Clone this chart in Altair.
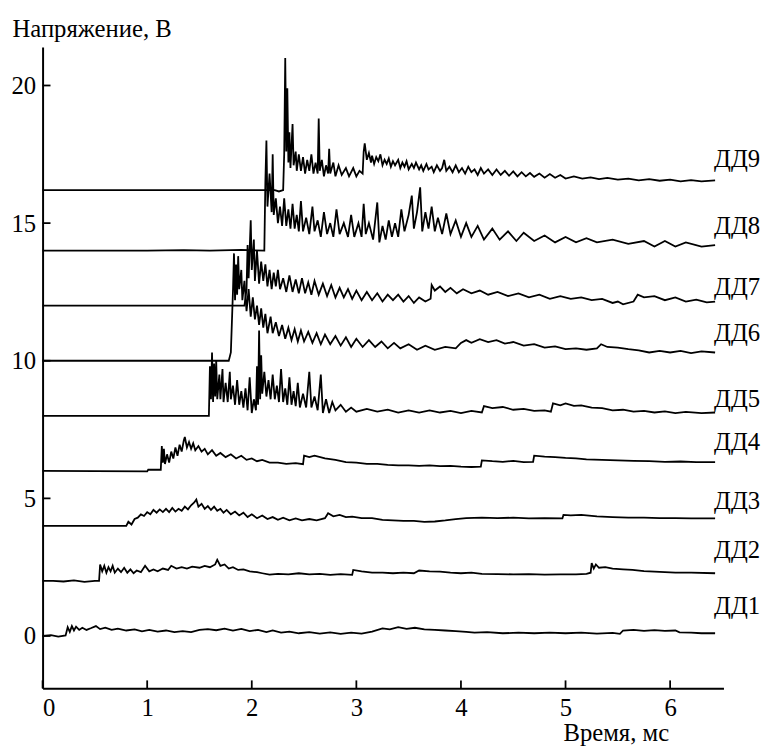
import altair as alt
import pandas as pd

# ---------------- data (time, ms ; voltage, V) ----------------
DD1 = [(0,0.0),(0.08,0.03),(0.15,-0.02),(0.22,0.02),(0.24,0.32),(0.26,0.15),(0.28,0.36),(0.3,0.2),(0.32,0.34),(0.35,0.22),(0.38,0.3),(0.42,0.22),(0.46,0.28),(0.51,0.36),(0.55,0.25),(0.6,0.3),(0.66,0.22),(0.72,0.27),(0.8,0.2),(0.88,0.24),(0.95,0.17),(1.02,0.22),(1.1,0.16),(1.18,0.2),(1.26,0.14),(1.34,0.18),(1.42,0.14),(1.5,0.22),(1.58,0.25),(1.66,0.21),(1.74,0.27),(1.82,0.2),(1.9,0.26),(1.98,0.18),(2.06,0.22),(2.14,0.14),(2.2,0.2),(2.28,0.12),(2.36,0.16),(2.45,0.1),(2.55,0.14),(2.65,0.09),(2.75,0.13),(2.85,0.08),(2.95,0.12),(3.05,0.09),(3.15,0.16),(3.25,0.28),(3.32,0.24),(3.4,0.32),(3.48,0.26),(3.56,0.3),(3.65,0.24),(3.75,0.22),(3.85,0.2),(3.95,0.18),(4.05,0.15),(4.13,0.12),(4.25,0.14),(4.4,0.1),(4.55,0.12),(4.7,0.1),(4.85,0.12),(5.0,0.1),(5.15,0.12),(5.3,0.09),(5.45,0.11),(5.52,0.08),(5.55,0.2),(5.65,0.22),(5.75,0.19),(5.85,0.21),(5.95,0.19),(6.05,0.2),(6.09,0.13),(6.2,0.12),(6.3,0.1),(6.43,0.1)]

DD2 = [(0,2.0),(0.1,2.0),(0.2,1.98),(0.3,2.02),(0.4,1.97),(0.5,2.0),(0.54,2.0),(0.55,2.6),(0.57,2.35),(0.59,2.55),(0.61,2.3),(0.63,2.5),(0.65,2.35),(0.67,2.55),(0.69,2.3),(0.72,2.45),(0.75,2.32),(0.78,2.48),(0.81,2.3),(0.84,2.42),(0.87,2.28),(0.9,2.38),(0.94,2.32),(0.98,2.55),(1.02,2.35),(1.06,2.42),(1.1,2.35),(1.15,2.45),(1.2,2.4),(1.23,2.55),(1.28,2.45),(1.33,2.5),(1.38,2.45),(1.43,2.52),(1.5,2.48),(1.55,2.55),(1.6,2.5),(1.65,2.6),(1.67,2.77),(1.7,2.55),(1.74,2.6),(1.78,2.45),(1.82,2.5),(1.87,2.4),(1.92,2.42),(1.98,2.35),(2.05,2.32),(2.1,2.28),(2.17,2.23),(2.25,2.26),(2.35,2.24),(2.45,2.28),(2.55,2.24),(2.65,2.26),(2.75,2.22),(2.85,2.25),(2.96,2.22),(2.97,2.4),(3.05,2.35),(3.15,2.3),(3.25,2.3),(3.35,2.28),(3.45,2.3),(3.55,2.28),(3.6,2.38),(3.7,2.35),(3.8,2.34),(3.9,2.3),(4.0,2.28),(4.1,2.3),(4.2,2.26),(4.35,2.25),(4.5,2.24),(4.65,2.25),(4.8,2.23),(4.95,2.24),(5.1,2.24),(5.2,2.26),(5.24,2.3),(5.25,2.65),(5.27,2.45),(5.29,2.6),(5.32,2.48),(5.38,2.5),(5.45,2.45),(5.55,2.42),(5.64,2.4),(5.75,2.36),(5.9,2.33),(6.05,2.3),(6.2,2.3),(6.43,2.28)]

DD3 = [(0,4.0),(0.8,4.0),(0.82,4.15),(0.85,4.05),(0.88,4.25),(0.91,4.3),(0.94,4.42),(0.97,4.36),(1.0,4.5),(1.03,4.42),(1.06,4.58),(1.09,4.48),(1.12,4.6),(1.15,4.5),(1.18,4.62),(1.21,4.5),(1.24,4.65),(1.27,4.52),(1.3,4.62),(1.33,4.55),(1.36,4.7),(1.39,4.6),(1.42,4.75),(1.45,4.85),(1.47,4.96),(1.49,4.7),(1.52,4.8),(1.55,4.62),(1.58,4.72),(1.61,4.58),(1.64,4.7),(1.67,4.55),(1.7,4.62),(1.73,4.48),(1.76,4.58),(1.8,4.42),(1.84,4.52),(1.88,4.38),(1.92,4.48),(1.96,4.32),(2.0,4.42),(2.05,4.28),(2.1,4.38),(2.15,4.25),(2.2,4.32),(2.25,4.22),(2.3,4.3),(2.36,4.2),(2.42,4.27),(2.48,4.2),(2.55,4.25),(2.62,4.2),(2.7,4.28),(2.73,4.46),(2.78,4.35),(2.84,4.4),(2.9,4.32),(2.96,4.34),(3.05,4.28),(3.15,4.28),(3.25,4.22),(3.35,4.2),(3.45,4.18),(3.55,4.18),(3.65,4.15),(3.75,4.16),(3.85,4.2),(3.95,4.25),(4.05,4.28),(4.2,4.3),(4.35,4.28),(4.5,4.3),(4.65,4.27),(4.8,4.28),(4.97,4.27),(4.98,4.4),(5.05,4.38),(5.15,4.4),(5.3,4.35),(5.45,4.32),(5.6,4.3),(5.75,4.3),(5.9,4.28),(6.05,4.28),(6.2,4.27),(6.43,4.27)]

DD4 = [(0,6.0),(1.0,5.98),(1.01,6.04),(1.13,6.04),(1.14,6.9),(1.15,6.3),(1.16,6.8),(1.17,6.25),(1.19,6.6),(1.21,6.3),(1.23,6.7),(1.25,6.45),(1.27,6.85),(1.29,6.55),(1.31,6.95),(1.33,6.7),(1.35,7.1),(1.36,7.23),(1.38,6.85),(1.4,7.05),(1.42,6.8),(1.44,7.0),(1.46,6.75),(1.49,6.9),(1.52,6.7),(1.55,6.8),(1.58,6.6),(1.62,6.75),(1.66,6.55),(1.7,6.65),(1.75,6.5),(1.8,6.6),(1.85,6.45),(1.9,6.55),(1.95,6.4),(2.0,6.45),(2.05,6.35),(2.1,6.4),(2.17,6.3),(2.25,6.3),(2.33,6.25),(2.42,6.28),(2.49,6.24),(2.5,6.55),(2.55,6.5),(2.6,6.55),(2.7,6.45),(2.8,6.4),(2.9,6.32),(3.0,6.3),(3.1,6.25),(3.2,6.25),(3.3,6.22),(3.4,6.2),(3.5,6.2),(3.6,6.18),(3.7,6.2),(3.8,6.17),(3.9,6.18),(4.0,6.15),(4.1,6.14),(4.19,6.15),(4.2,6.38),(4.3,6.35),(4.4,6.33),(4.5,6.36),(4.6,6.32),(4.69,6.33),(4.7,6.55),(4.8,6.52),(4.9,6.5),(5.0,6.47),(5.1,6.45),(5.2,6.42),(5.35,6.4),(5.5,6.38),(5.65,6.36),(5.8,6.35),(5.95,6.33),(6.1,6.34),(6.25,6.32),(6.43,6.32)]

DD5 = [(0,8.0),(1.59,8.0),(1.6,9.8),(1.61,8.6),(1.62,10.3),(1.63,8.5),(1.64,9.9),(1.65,8.7),(1.66,10.0),(1.67,8.6),(1.69,9.5),(1.7,8.6),(1.72,9.7),(1.73,8.5),(1.75,9.2),(1.77,8.5),(1.79,9.6),(1.8,8.6),(1.82,9.1),(1.84,8.4),(1.86,9.3),(1.88,8.4),(1.9,8.9),(1.92,8.3),(1.94,9.0),(1.96,8.2),(1.98,9.4),(2.0,8.1),(2.02,8.6),(2.04,8.2),(2.05,9.8),(2.06,8.4),(2.07,11.1),(2.08,8.6),(2.09,10.2),(2.1,8.8),(2.12,9.6),(2.14,8.7),(2.16,9.3),(2.18,8.6),(2.2,9.5),(2.22,8.6),(2.24,9.1),(2.26,8.5),(2.28,9.7),(2.3,8.5),(2.32,9.0),(2.34,8.4),(2.36,9.4),(2.38,8.4),(2.4,8.9),(2.42,8.35),(2.44,9.2),(2.46,8.3),(2.49,8.8),(2.52,8.3),(2.55,9.6),(2.57,8.3),(2.6,8.7),(2.63,8.2),(2.66,9.5),(2.68,8.1),(2.71,8.6),(2.74,8.1),(2.77,8.5),(2.8,8.2),(2.85,8.4),(2.9,8.15),(2.95,8.3),(3.0,8.15),(3.1,8.25),(3.2,8.15),(3.3,8.22),(3.4,8.12),(3.5,8.2),(3.6,8.12),(3.7,8.2),(3.8,8.12),(3.9,8.18),(4.0,8.1),(4.1,8.18),(4.2,8.12),(4.22,8.35),(4.3,8.28),(4.4,8.32),(4.5,8.22),(4.6,8.25),(4.7,8.18),(4.8,8.2),(4.86,8.15),(4.88,8.45),(4.95,8.38),(5.0,8.45),(5.08,8.36),(5.15,8.38),(5.25,8.3),(5.35,8.28),(5.45,8.2),(5.55,8.22),(5.65,8.15),(5.75,8.18),(5.85,8.12),(5.95,8.16),(6.05,8.1),(6.15,8.14),(6.3,8.1),(6.43,8.12)]

DD6 = [(0,10.0),(1.78,10.0),(1.8,10.3),(1.82,12.5),(1.83,13.9),(1.84,12.2),(1.85,13.5),(1.86,12.4),(1.87,13.8),(1.88,12.6),(1.9,13.3),(1.91,12.2),(1.93,12.9),(1.95,11.8),(1.97,12.6),(1.99,11.6),(2.01,12.3),(2.03,11.5),(2.05,12.0),(2.07,11.3),(2.09,11.9),(2.11,11.2),(2.13,11.7),(2.15,11.0),(2.18,11.6),(2.2,11.0),(2.23,11.4),(2.26,10.9),(2.29,11.3),(2.32,10.8),(2.35,11.2),(2.38,10.75),(2.41,11.15),(2.44,10.7),(2.47,11.1),(2.5,10.7),(2.54,11.05),(2.58,10.65),(2.62,11.0),(2.66,10.6),(2.7,10.95),(2.75,10.6),(2.8,10.9),(2.85,10.55),(2.9,10.85),(2.95,10.5),(3.0,10.8),(3.06,10.5),(3.12,10.75),(3.18,10.5),(3.24,10.7),(3.3,10.45),(3.36,10.65),(3.42,10.45),(3.5,10.6),(3.58,10.4),(3.66,10.55),(3.75,10.4),(3.85,10.5),(3.95,10.45),(4.0,10.65),(4.05,10.75),(4.1,10.65),(4.18,10.78),(4.26,10.68),(4.34,10.75),(4.42,10.62),(4.5,10.68),(4.6,10.55),(4.7,10.6),(4.8,10.48),(4.9,10.52),(5.0,10.42),(5.1,10.45),(5.2,10.4),(5.3,10.45),(5.34,10.6),(5.4,10.5),(5.5,10.48),(5.6,10.42),(5.7,10.38),(5.8,10.3),(5.9,10.36),(6.0,10.3),(6.1,10.36),(6.2,10.28),(6.3,10.34),(6.43,10.3)]

DD7 = [(0,12.0),(1.93,12.0),(1.95,12.6),(1.96,14.2),(1.97,13.0),(1.99,15.1),(2.0,13.3),(2.02,14.4),(2.03,12.9),(2.05,14.0),(2.07,12.8),(2.09,13.6),(2.11,12.9),(2.13,13.5),(2.15,12.7),(2.17,13.3),(2.19,12.6),(2.21,13.2),(2.23,12.7),(2.25,13.3),(2.27,12.6),(2.3,13.0),(2.33,12.5),(2.36,13.1),(2.39,12.5),(2.42,12.95),(2.45,12.45),(2.48,13.0),(2.51,12.45),(2.54,12.85),(2.57,12.4),(2.6,12.9),(2.64,12.4),(2.68,12.8),(2.72,12.35),(2.76,12.75),(2.8,12.3),(2.84,12.65),(2.88,12.3),(2.92,12.6),(2.96,12.25),(3.0,12.55),(3.05,12.2),(3.1,12.5),(3.15,12.2),(3.2,12.45),(3.25,12.15),(3.3,12.4),(3.35,12.2),(3.4,12.4),(3.45,12.15),(3.5,12.35),(3.55,12.1),(3.6,12.3),(3.66,12.15),(3.71,12.25),(3.72,12.75),(3.75,12.55),(3.8,12.7),(3.85,12.5),(3.9,12.65),(3.96,12.45),(4.02,12.6),(4.1,12.45),(4.18,12.55),(4.26,12.4),(4.35,12.5),(4.45,12.35),(4.55,12.45),(4.65,12.3),(4.75,12.4),(4.85,12.25),(4.95,12.35),(5.05,12.25),(5.15,12.3),(5.25,12.2),(5.35,12.25),(5.45,12.1),(5.5,12.15),(5.55,12.05),(5.65,12.15),(5.69,12.4),(5.75,12.3),(5.85,12.35),(5.95,12.2),(6.05,12.3),(6.15,12.15),(6.25,12.22),(6.35,12.12),(6.43,12.15)]

DD8 = [(0,14.0),(1.0,14.0),(1.35,14.02),(1.6,14.0),(1.9,14.03),(2.12,14.0),(2.13,16.5),(2.14,18.0),(2.15,15.6),(2.17,16.8),(2.19,15.4),(2.2,17.5),(2.21,15.3),(2.23,15.9),(2.25,15.0),(2.27,15.6),(2.29,14.9),(2.31,15.9),(2.33,14.9),(2.35,15.5),(2.37,14.8),(2.39,15.7),(2.41,14.8),(2.43,15.3),(2.45,14.7),(2.47,15.8),(2.49,14.7),(2.52,15.2),(2.55,14.6),(2.58,15.6),(2.6,14.7),(2.63,15.1),(2.66,14.5),(2.69,15.4),(2.72,14.6),(2.75,15.0),(2.78,14.5),(2.81,15.5),(2.84,14.6),(2.88,15.0),(2.92,14.5),(2.95,15.3),(2.98,14.5),(3.02,15.0),(3.05,14.5),(3.07,15.7),(3.09,14.6),(3.12,15.0),(3.16,14.4),(3.2,15.75),(3.22,14.3),(3.25,14.9),(3.28,14.4),(3.31,15.1),(3.34,14.5),(3.37,15.0),(3.4,14.5),(3.43,15.5),(3.46,14.7),(3.5,15.3),(3.53,16.0),(3.55,14.8),(3.58,15.4),(3.61,16.3),(3.63,14.7),(3.66,15.4),(3.69,14.8),(3.72,15.6),(3.75,14.7),(3.78,15.2),(3.82,14.6),(3.86,15.35),(3.9,14.6),(3.95,15.1),(4.0,14.5),(4.05,15.0),(4.1,14.5),(4.16,14.9),(4.22,14.4),(4.3,14.8),(4.37,14.4),(4.45,14.7),(4.53,14.35),(4.6,14.65),(4.7,14.35),(4.8,14.55),(4.9,14.3),(5.0,14.5),(5.1,14.3),(5.2,14.45),(5.3,14.3),(5.45,14.4),(5.6,14.25),(5.75,14.35),(5.85,14.15),(5.95,14.35),(6.05,14.15),(6.15,14.3),(6.3,14.15),(6.43,14.2)]

DD9 = [(0,16.2),(2.22,16.2),(2.26,16.15),(2.3,16.2),(2.31,17.5),(2.32,21.0),(2.33,17.6),(2.34,19.9),(2.35,17.2),(2.36,18.3),(2.37,17.0),(2.39,18.6),(2.4,17.1),(2.42,17.6),(2.43,16.9),(2.45,17.5),(2.47,16.9),(2.49,17.4),(2.51,16.8),(2.53,17.3),(2.55,16.9),(2.57,17.5),(2.59,16.8),(2.61,17.2),(2.63,16.8),(2.64,18.8),(2.65,16.9),(2.67,17.3),(2.69,16.7),(2.71,17.1),(2.73,16.8),(2.74,17.7),(2.75,16.8),(2.78,17.2),(2.8,16.7),(2.83,17.1),(2.86,16.75),(2.9,17.0),(2.93,16.7),(2.97,17.0),(3.0,16.7),(3.03,16.9),(3.06,16.8),(3.07,17.6),(3.08,17.9),(3.1,17.3),(3.12,17.55),(3.14,17.2),(3.15,17.45),(3.17,17.15),(3.19,17.4),(3.21,17.25),(3.23,17.5),(3.25,17.1),(3.27,17.3),(3.29,17.15),(3.31,17.35),(3.33,17.05),(3.35,17.25),(3.37,17.1),(3.4,17.3),(3.42,17.0),(3.44,17.2),(3.46,17.05),(3.48,17.25),(3.5,16.95),(3.53,17.15),(3.55,17.0),(3.57,17.2),(3.6,16.95),(3.62,17.1),(3.64,16.9),(3.67,17.15),(3.69,16.95),(3.72,17.05),(3.74,16.85),(3.77,17.1),(3.8,16.9),(3.82,17.0),(3.84,17.3),(3.86,16.9),(3.89,17.05),(3.92,16.85),(3.95,17.1),(3.98,16.85),(4.01,17.0),(4.04,16.8),(4.07,17.05),(4.1,16.85),(4.13,16.95),(4.16,16.75),(4.19,17.0),(4.22,16.8),(4.26,16.95),(4.3,16.75),(4.34,16.95),(4.38,16.75),(4.42,16.9),(4.46,16.72),(4.5,16.88),(4.54,16.7),(4.58,16.85),(4.62,16.7),(4.66,16.82),(4.7,16.68),(4.75,16.8),(4.8,16.65),(4.85,16.78),(4.9,16.65),(4.95,16.75),(5.0,16.62),(5.08,16.7),(5.16,16.62),(5.24,16.66),(5.32,16.6),(5.4,16.64),(5.5,16.58),(5.6,16.62),(5.7,16.55),(5.8,16.6),(5.9,16.54),(6.0,16.58),(6.1,16.52),(6.2,16.56),(6.3,16.52),(6.43,16.55)]

SERIES = ["ДД1", "ДД2", "ДД3", "ДД4", "ДД5", "ДД6", "ДД7", "ДД8", "ДД9"]
TRACES = [DD1, DD2, DD3, DD4, DD5, DD6, DD7, DD8, DD9]

# label anchor positions (time, voltage)
LABEL_T = [6.42] * 9
LABEL_V = [1.1, 3.13, 4.9, 7.05, 8.6, 11.0, 12.66, 14.9, 17.34]

X_TICKS = [0, 1, 2, 3, 4, 5, 6]
Y_TICKS = [0, 5, 10, 15, 20]

X_DOMAIN = [0, 6.51]
Y_DOMAIN = [-1.9, 21.4]

# ---------------- build tables ----------------
rows = []
for name, tr in zip(SERIES, TRACES):
    for t, v in tr:
        rows.append({"series": name, "t": t, "v": v})
df = pd.DataFrame(rows)
labels = pd.DataFrame({"series": SERIES, "t": LABEL_T, "v": LABEL_V})
xt = pd.DataFrame({"t": X_TICKS})
yt = pd.DataFrame({"v": Y_TICKS})

W, H = 689, 649
FONT = "Times New Roman, Liberation Serif, DejaVu Serif, serif"
FS = 25

xscale = alt.Scale(domain=X_DOMAIN, nice=False, zero=False)
yscale = alt.Scale(domain=Y_DOMAIN, nice=False, zero=False)

x_axis = alt.Axis(values=X_TICKS, ticks=False, grid=False, labelPadding=8,
                  labelFont=FONT, labelFontSize=FS, labelColor="black",
                  domainColor="black", domainWidth=2,
                  title="Время, мс", titleFont=FONT, titleFontSize=FS,
                  titleFontWeight="normal", titleColor="black",
                  titleAlign="center", titleBaseline="alphabetic",
                  titleX=580, titleY=53)
y_axis = alt.Axis(values=Y_TICKS, ticks=False, grid=False, labelPadding=7,
                  labelFont=FONT, labelFontSize=FS, labelColor="black",
                  domainColor="black", domainWidth=2,
                  title="Напряжение, В", titleFont=FONT, titleFontSize=FS,
                  titleFontWeight="normal", titleColor="black",
                  titleAngle=0, titleAlign="left", titleBaseline="alphabetic",
                  titleX=-31, titleY=-11)

X = alt.X("t:Q", scale=xscale, axis=x_axis)
Y = alt.Y("v:Q", scale=yscale, axis=y_axis)

lines = alt.Chart(df).mark_line(color="black", strokeWidth=1.8).encode(
    x=X, y=Y, detail="series:N", order="t:Q",
)

text = alt.Chart(labels).mark_text(align="left", baseline="middle", font=FONT,
                                   fontSize=FS, color="black").encode(
    x=X, y=Y, text="series:N",
)

xticks = alt.Chart(xt).mark_rule(color="black", strokeWidth=1.8).encode(
    x=X, y=alt.value(H), y2=alt.value(H - 8),
)

yticks = alt.Chart(yt).mark_rule(color="black", strokeWidth=1.8).encode(
    y=Y, x=alt.value(0), x2=alt.value(8),
)

chart = alt.layer(lines, xticks, yticks, text).properties(
    width=W, height=H,
    autosize=alt.AutoSizeParams(type="none"),
    padding={"left": 35, "top": 35, "right": 40, "bottom": 57},
).configure(background="white").configure_view(stroke=None)

chart.save("out.html", embed_options={"renderer": "svg", "actions": False})
